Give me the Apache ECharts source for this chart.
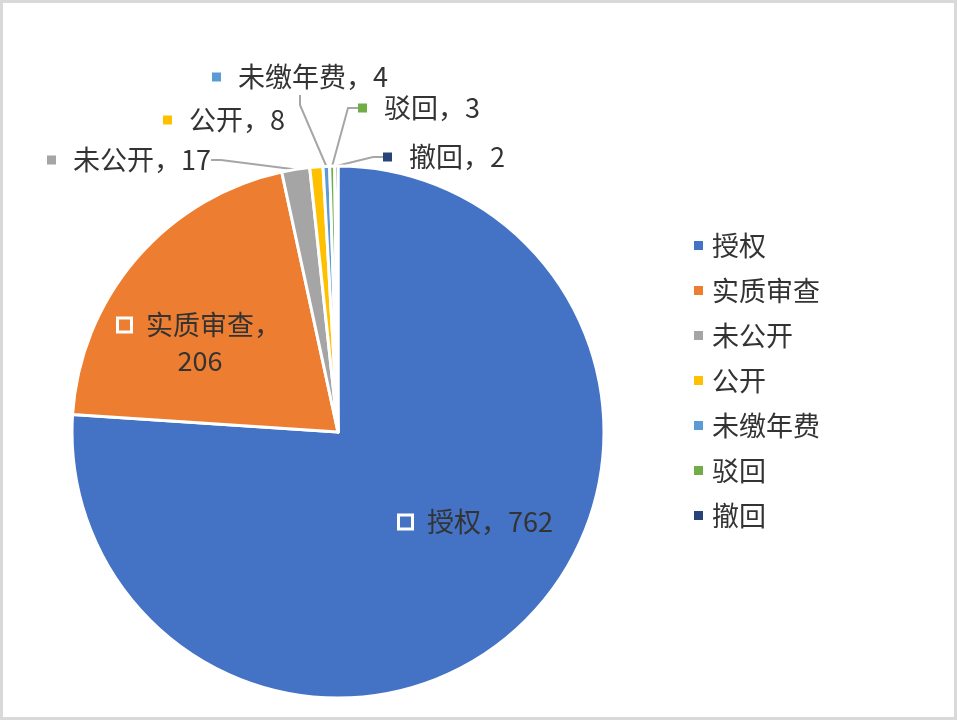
<!DOCTYPE html>
<html>
<head>
    <meta charset="utf-8">
    <title>ECharts</title>
    <script type="text/javascript" src="https://cdn.jsdelivr.net/npm/echarts@6/dist/echarts.min.js"></script>
    <style>
        html, body { margin: 0; padding: 0; background: #fff; }
        #main { width: 957px; height: 720px; box-sizing: border-box; border: 3px solid #d9d9d9; }
    </style>
</head>
<body>
<div id="main"></div>

<script type="text/javascript">
    // 数据
    var names = ['授权', '实质审查', '未公开', '公开', '未缴年费', '驳回', '撤回'];
    var counts = [762, 206, 17, 8, 4, 3, 2];
    var colors = ['#4472C4', '#ED7D31', '#A5A5A5', '#FFC000', '#5B9BD5', '#70AD47', '#264478'];

    // 标签位置 (x, y, 对齐)
    var labelPos = [
        [397, 519, 'left'],
        [197, 340, 'center'],
        [44, 157, 'left'],
        [160, 117, 'left'],
        [209, 74, 'left'],
        [355, 105, 'left'],
        [380, 154, 'left']
    ];

    var chart = echarts.init(document.getElementById('main'));
    var font = '"Noto Sans CJK SC", sans-serif';

    var seriesData = names.map(function (n, i) {
        var inside = i < 2;
        return {
            name: n,
            value: counts[i],
            itemStyle: { color: colors[i] },
            labelLine: { show: !inside && i !== 3 },
            label: {
                formatter: i === 1 ? '{m|}{g|}{b}，\n{c}' : '{m|}{g|}{b}，{c}',
                rich: {
                    m: inside ? {
                        width: 11, height: 11,
                        backgroundColor: colors[i],
                        borderColor: '#fff', borderWidth: 3
                    } : {
                        width: 9, height: 9,
                        backgroundColor: colors[i]
                    },
                    g: { width: inside ? 16 : 17 }
                }
            }
        };
    });

    var option = {
        textStyle: { fontFamily: font },
        legend: {
            orient: 'vertical',
            left: 684,
            top: 224,
            itemWidth: 11,
            itemHeight: 11,
            itemGap: 18,
            icon: 'rect',
            data: names,
            textStyle: { fontSize: 27, color: '#333', fontFamily: font, padding: [0, 0, 0, 3] }
        },
        series: [
            {
                type: 'pie',
                center: [335, 429],
                radius: 266,
                startAngle: 90,
                clockwise: true,
                avoidLabelOverlap: false,
                data: seriesData,
                itemStyle: { borderColor: '#fff', borderWidth: 3 },
                label: {
                    show: true,
                    position: 'outside',
                    fontSize: 27,
                    lineHeight: 36,
                    color: '#333',
                    fontFamily: font
                },
                labelLine: {
                    show: true,
                    length: 10,
                    length2: 10,
                    lineStyle: { color: '#a6a6a6', width: 2 }
                },
                labelLayout: function (params) {
                    var p = labelPos[params.dataIndex];
                    return { x: p[0], y: p[1], align: p[2], verticalAlign: 'middle' };
                }
            }
        ]
    };
    chart.setOption(option);
</script>
</body>
</html>
